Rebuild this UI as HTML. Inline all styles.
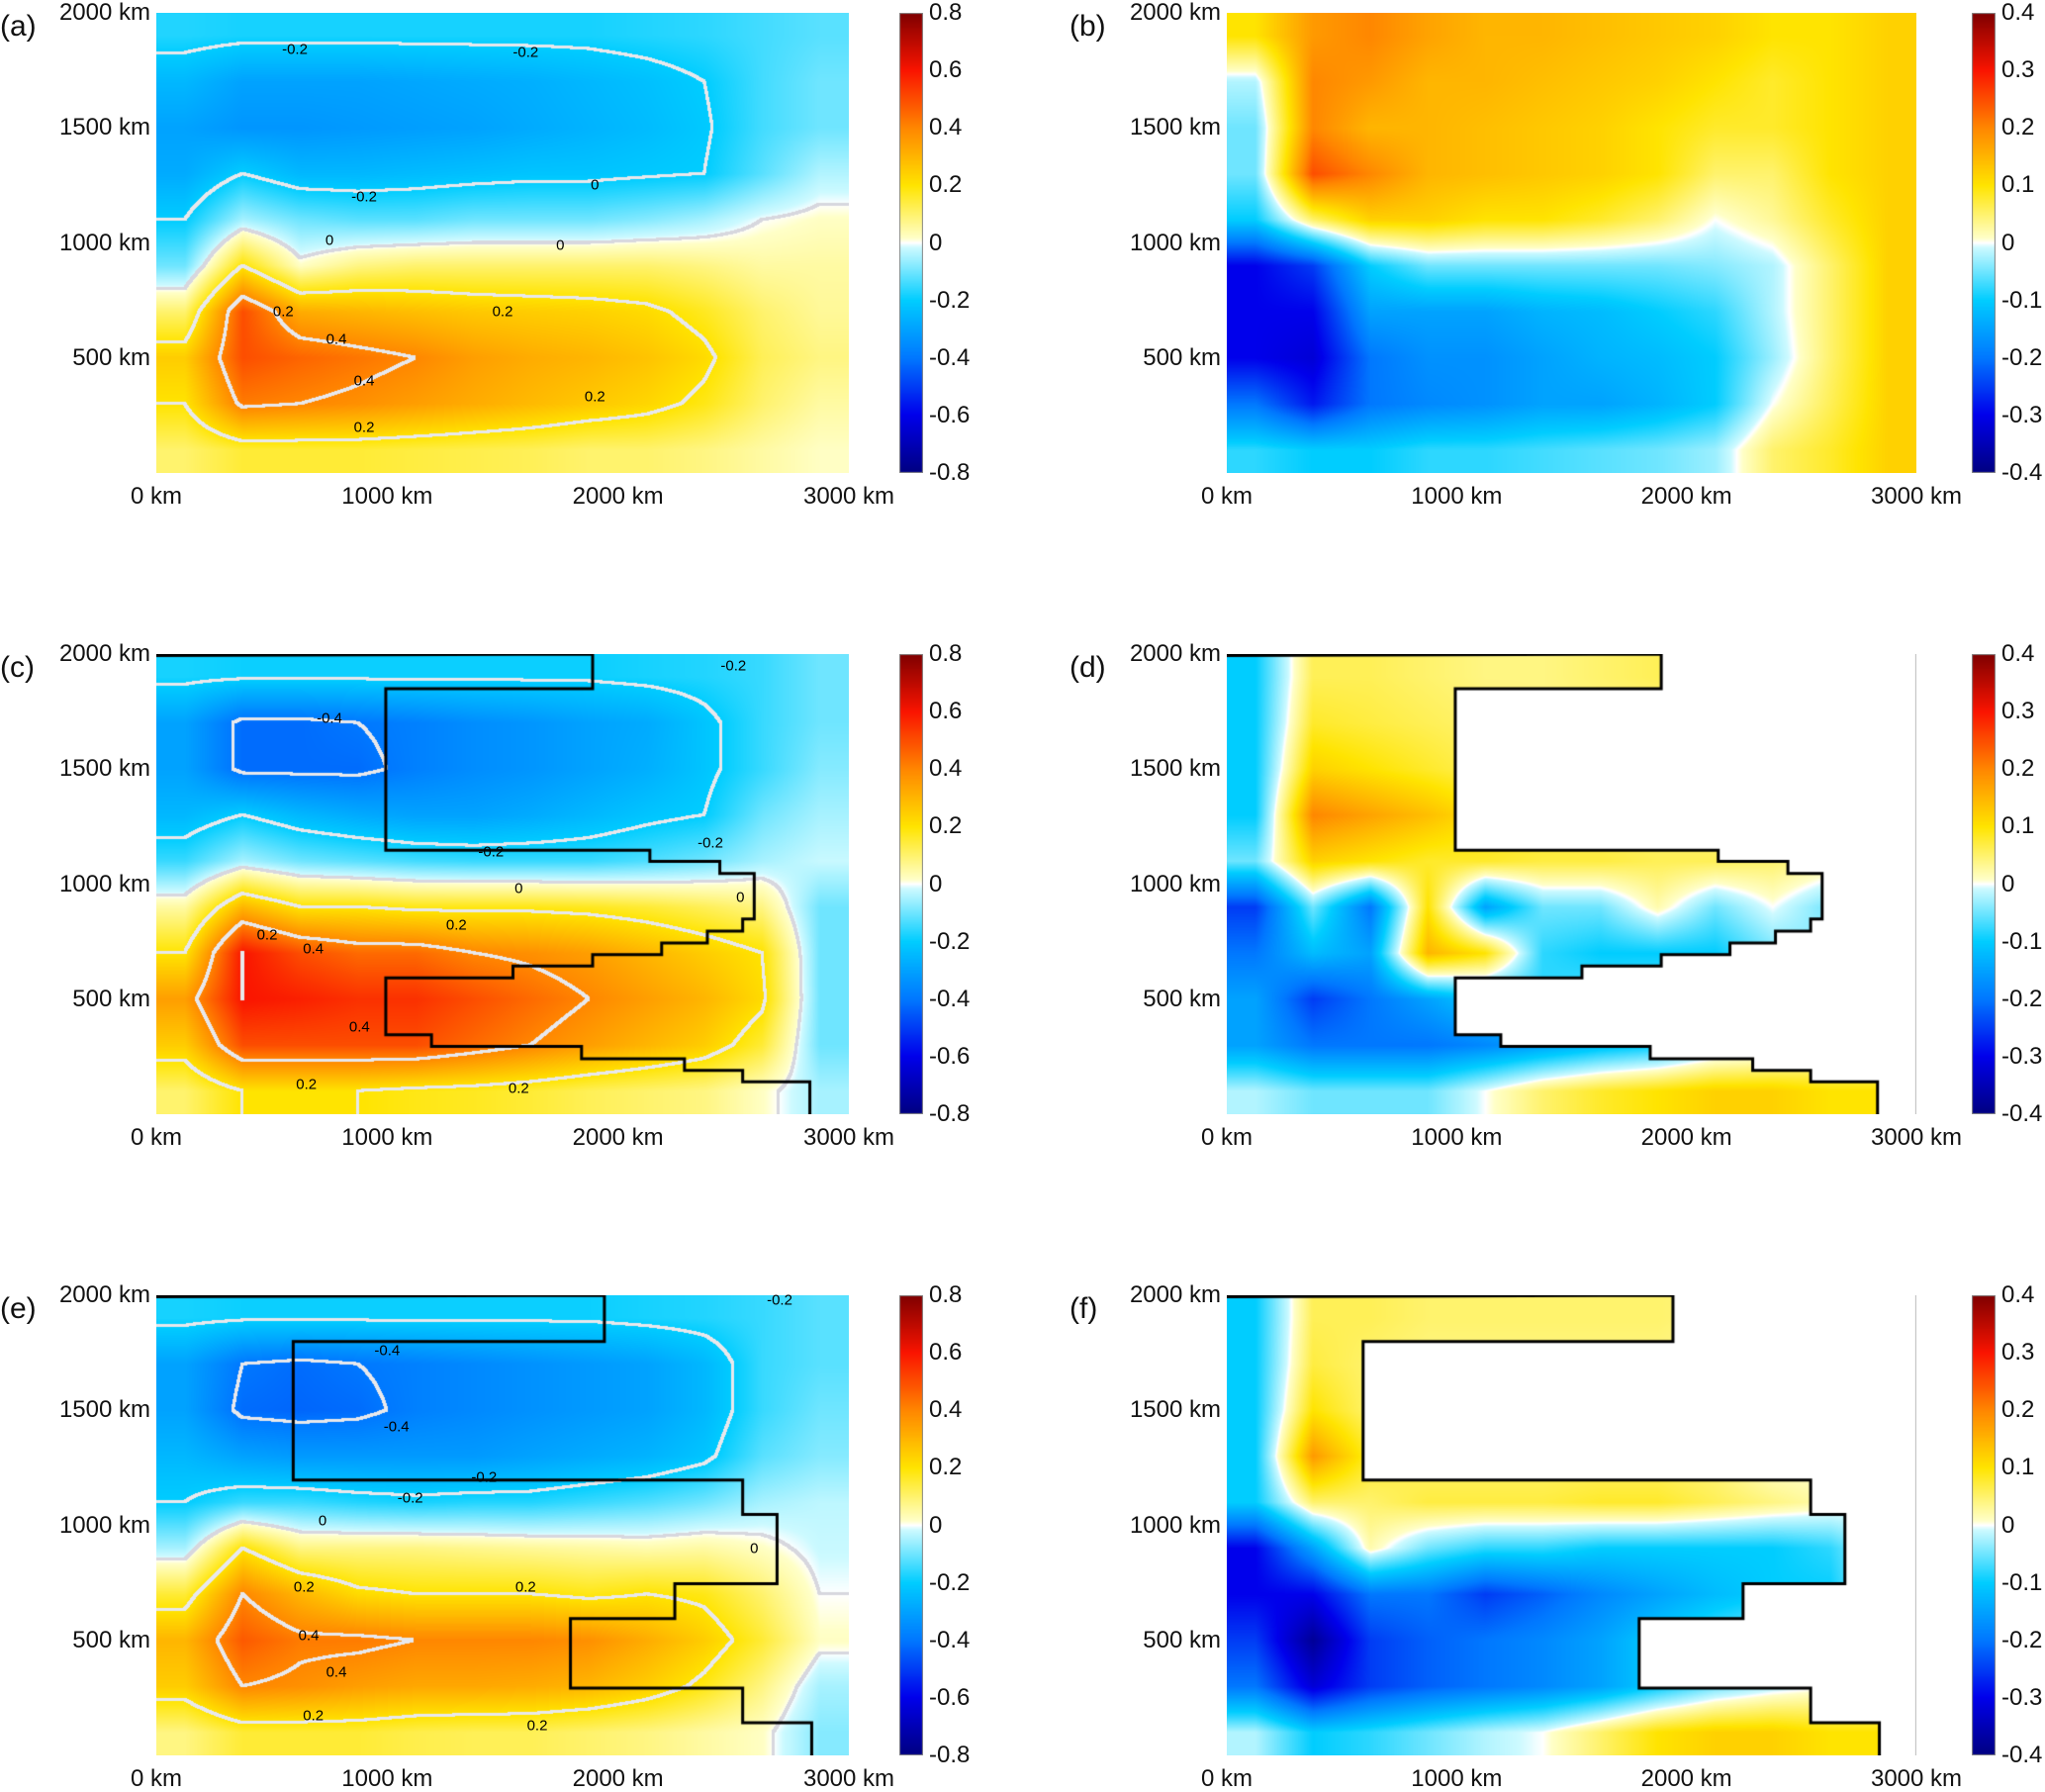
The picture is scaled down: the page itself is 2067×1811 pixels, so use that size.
<!DOCTYPE html>
<html><head><meta charset="utf-8">
<style>
html,body{margin:0;padding:0;background:#fff;}
body{width:2067px;height:1806px;position:relative;overflow:hidden;font-family:"Liberation Sans",Arial,sans-serif;color:#111;}
.tick{position:absolute;font-size:24px;white-space:nowrap;line-height:24px;}
.plbl{position:absolute;font-size:30px;line-height:30px;}
.clbl{position:absolute;font-size:15px;line-height:15px;white-space:nowrap;color:#000;transform:translate(-50%,-50%);}
canvas{position:absolute;}
</style></head>
<body>
<div id="root"></div>
<script>
// ---- data: 12 columns (x centres 125..2875 km) x 10 rows (y centres 1900..100 km, top to bottom)
const xTicks = [0, 1000, 2000, 3000];
const yTicks = [500, 1000, 1500, 2000];
const cbTicksWide = [-0.8, -0.6, -0.4, -0.2, 0, 0.2, 0.4, 0.6, 0.8];
const cbTicksNarrow = [-0.4, -0.3, -0.2, -0.1, 0, 0.1, 0.2, 0.3, 0.4];
const contourLevels = [-0.4, -0.2, 0, 0.2, 0.4, 0.6];

const dataA = [
[-0.17,-0.18,-0.18,-0.18,-0.18,-0.18,-0.18,-0.18,-0.17,-0.16,-0.14,-0.12],
[-0.25,-0.3,-0.3,-0.3,-0.29,-0.28,-0.27,-0.25,-0.23,-0.2,-0.14,-0.1],
[-0.3,-0.33,-0.33,-0.32,-0.31,-0.3,-0.28,-0.26,-0.24,-0.21,-0.14,-0.1],
[-0.28,-0.2,-0.25,-0.25,-0.24,-0.23,-0.22,-0.22,-0.21,-0.2,-0.12,-0.04],
[-0.2,-0.05,-0.1,-0.12,-0.12,-0.1,-0.1,-0.1,-0.08,-0.05,0.0,0.02],
[-0.1,0.2,0.02,0.08,0.1,0.1,0.1,0.1,0.1,0.08,0.05,0.05],
[0.1,0.5,0.32,0.3,0.28,0.26,0.25,0.24,0.22,0.17,0.1,0.06],
[0.25,0.5,0.46,0.43,0.4,0.35,0.32,0.3,0.27,0.22,0.12,0.08],
[0.2,0.42,0.4,0.38,0.35,0.32,0.29,0.26,0.23,0.18,0.1,0.05],
[0.1,0.15,0.15,0.15,0.14,0.13,0.12,0.1,0.1,0.08,0.05,0.02]];
const dataB = [
[0.1,0.18,0.2,0.17,0.15,0.15,0.14,0.13,0.12,0.1,0.1,0.12],
[-0.02,0.2,0.18,0.15,0.15,0.14,0.13,0.12,0.1,0.08,0.1,0.12],
[-0.05,0.2,0.15,0.15,0.14,0.13,0.12,0.1,0.08,0.08,0.1,0.12],
[-0.05,0.25,0.2,0.15,0.14,0.13,0.12,0.1,0.05,0.05,0.1,0.12],
[-0.1,0.05,0.12,0.12,0.1,0.1,0.08,0.05,0.0,0.03,0.08,0.12],
[-0.3,-0.25,-0.1,-0.05,-0.05,-0.05,-0.05,-0.05,-0.04,-0.02,0.05,0.12],
[-0.3,-0.3,-0.15,-0.15,-0.15,-0.13,-0.12,-0.1,-0.08,-0.02,0.05,0.12],
[-0.3,-0.32,-0.2,-0.17,-0.17,-0.15,-0.13,-0.12,-0.1,-0.03,0.05,0.12],
[-0.2,-0.28,-0.2,-0.18,-0.17,-0.15,-0.15,-0.13,-0.1,0.0,0.06,0.12],
[-0.08,-0.1,-0.1,-0.08,-0.08,-0.07,-0.06,-0.05,-0.03,0.05,0.08,0.12]];
const dataC = [
[-0.18,-0.19,-0.19,-0.19,-0.19,-0.19,-0.19,-0.19,-0.18,-0.17,-0.15,-0.1],
[-0.3,-0.42,-0.42,-0.4,-0.38,-0.35,-0.33,-0.3,-0.28,-0.22,-0.15,-0.1],
[-0.3,-0.42,-0.42,-0.42,-0.38,-0.35,-0.33,-0.3,-0.27,-0.22,-0.15,-0.08],
[-0.25,-0.2,-0.25,-0.28,-0.3,-0.3,-0.28,-0.25,-0.22,-0.2,-0.1,-0.05],
[-0.15,-0.05,-0.1,-0.12,-0.14,-0.15,-0.15,-0.15,-0.13,-0.1,-0.05,-0.02],
[0.05,0.3,0.2,0.2,0.18,0.18,0.18,0.17,0.15,0.12,0.08,-0.1],
[0.2,0.6,0.5,0.45,0.45,0.4,0.38,0.35,0.3,0.25,0.2,-0.1],
[0.35,0.6,0.58,0.55,0.55,0.5,0.45,0.4,0.35,0.3,0.22,-0.1],
[0.25,0.5,0.5,0.5,0.5,0.45,0.4,0.35,0.3,0.25,0.15,-0.1],
[0.1,0.2,0.2,0.2,0.18,0.17,0.15,0.12,0.1,0.08,0.02,-0.05]];
const dataD = [
[-0.1,0.06,0.06,0.05,0.04,0.04,0.05,0.06,0.05,0,0,0],
[-0.1,0.08,0.07,0.06,0.05,0.04,0.04,0.04,0.03,0,0,0],
[-0.1,0.12,0.1,0.08,0.06,0.05,0.04,0.04,0.03,0,0,0],
[-0.1,0.2,0.17,0.14,0.1,0.08,0.06,0.05,0.04,0,0,0],
[-0.05,0.12,0.1,0.08,0.08,0.07,0.07,0.06,0.06,0.05,0.03,0],
[-0.25,-0.05,-0.2,0.1,-0.15,-0.05,-0.05,0.02,-0.05,0.0,-0.05,0],
[-0.2,-0.12,-0.15,0.15,0.1,-0.08,-0.1,-0.1,-0.1,-0.05,-0.03,0],
[-0.15,-0.25,-0.2,-0.15,-0.1,-0.08,-0.06,-0.05,-0.04,-0.03,0,0],
[-0.15,-0.2,-0.2,-0.2,-0.18,-0.15,-0.12,-0.1,-0.05,-0.03,0,0],
[-0.02,-0.05,-0.05,-0.05,0.0,0.05,0.08,0.1,0.12,0.12,0.1,0.1]];
const dataE = [
[-0.18,-0.19,-0.19,-0.19,-0.19,-0.19,-0.19,-0.19,-0.18,-0.17,-0.15,-0.12],
[-0.3,-0.4,-0.42,-0.4,-0.38,-0.36,-0.34,-0.32,-0.3,-0.25,-0.15,-0.12],
[-0.3,-0.42,-0.43,-0.42,-0.38,-0.36,-0.34,-0.32,-0.3,-0.25,-0.15,-0.1],
[-0.25,-0.3,-0.32,-0.32,-0.32,-0.32,-0.3,-0.28,-0.26,-0.22,-0.12,-0.08],
[-0.2,-0.15,-0.15,-0.17,-0.18,-0.17,-0.17,-0.15,-0.13,-0.1,-0.05,-0.03],
[-0.05,0.2,0.08,0.08,0.08,0.07,0.06,0.05,0.04,0.05,0.02,-0.02],
[0.15,0.4,0.3,0.22,0.2,0.2,0.2,0.18,0.2,0.18,0.1,0.0],
[0.3,0.48,0.42,0.42,0.4,0.4,0.4,0.38,0.32,0.25,0.15,0.02],
[0.25,0.4,0.38,0.35,0.33,0.33,0.32,0.3,0.25,0.18,0.08,-0.05],
[0.08,0.15,0.15,0.15,0.13,0.12,0.12,0.1,0.08,0.05,0.02,-0.08]];
const dataF = [
[-0.1,0.06,0.06,0.05,0.05,0.05,0.05,0.05,0.04,0,0,0],
[-0.1,0.07,0.05,0.04,0.04,0.04,0.04,0.04,0.03,0,0,0],
[-0.1,0.1,0.05,0.04,0.04,0.04,0.04,0.04,0.03,0,0,0],
[-0.1,0.18,0.08,0.05,0.05,0.05,0.05,0.05,0.04,0,0,0],
[-0.1,0.05,0.05,0.07,0.07,0.07,0.08,0.08,0.06,0.04,0.02,0],
[-0.3,-0.15,0.02,-0.05,-0.08,-0.08,-0.1,-0.1,-0.1,-0.1,-0.08,0],
[-0.3,-0.3,-0.2,-0.2,-0.25,-0.22,-0.18,-0.15,-0.12,-0.1,-0.1,0],
[-0.25,-0.38,-0.25,-0.22,-0.2,-0.18,-0.15,-0.1,-0.06,-0.03,0,0],
[-0.2,-0.32,-0.25,-0.22,-0.2,-0.18,-0.15,-0.1,-0.05,-0.02,0,0],
[-0.02,-0.1,-0.08,-0.05,-0.02,0.0,0.05,0.1,0.12,0.12,0.1,0.1]];
// contour label annotations: [x km, y km, text]
const labelsA = [[600,1840,'-0.2'],[1600,1830,'-0.2'],[900,1200,'-0.2'],[1900,1250,'0'],[750,1010,'0'],[1750,990,'0'],[1500,700,'0.2'],[550,700,'0.2'],[780,580,'0.4'],[900,400,'0.4'],[1900,330,'0.2'],[900,200,'0.2']];
const labelsC = [[750,1720,'-0.4'],[2500,1950,'-0.2'],[1450,1140,'-0.2'],[2400,1180,'-0.2'],[1570,980,'0'],[2530,940,'0'],[1300,820,'0.2'],[480,780,'0.2'],[680,720,'0.4'],[880,380,'0.4'],[650,130,'0.2'],[1570,110,'0.2']];
const labelsE = [[1000,1760,'-0.4'],[1040,1430,'-0.4'],[2700,1980,'-0.2'],[1100,1120,'-0.2'],[1420,1210,'-0.2'],[720,1020,'0'],[2590,900,'0'],[1600,730,'0.2'],[640,730,'0.2'],[660,520,'0.4'],[780,360,'0.4'],[680,170,'0.2'],[1650,130,'0.2']];
// basin boundary polylines (km), from top-left corner to bottom edge
const boundaryC = [[0,2000],[1890,2000],[1890,1850],[994,1850],[994,1147],[2138,1147],[2138,1099],[2441,1099],[2441,1046],[2590,1046],[2590,848],[2540,848],[2540,796],[2387,796],[2387,744],[2189,744],[2189,694],[1890,694],[1890,644],[1545,644],[1545,593],[994,593],[994,345],[1192,345],[1192,295],[1842,295],[1842,241],[2288,241],[2288,190],[2540,190],[2540,141],[2831,141],[2831,0]];
const boundaryE = [[0,2000],[1941,2000],[1941,1799],[593,1799],[593,1197],[2540,1197],[2540,1047],[2689,1047],[2689,746],[2246,746],[2246,595],[1794,595],[1794,293],[2540,293],[2540,142],[2839,142],[2839,0]];

// ---- layout
const panels = [
 {id:'a', x:158, y:13, w:700, h:465, data:dataA, vmax:0.8, cb:cbTicksWide, contours:true, labels:labelsA, line:null, mask:null, cbx:909, lx:0},
 {id:'b', x:1240, y:13, w:697, h:465, data:dataB, vmax:0.4, cb:cbTicksNarrow, contours:false, labels:[], line:null, mask:null, cbx:1993, lx:1081},
 {id:'c', x:158, y:661, w:700, h:465, data:dataC, vmax:0.8, cb:cbTicksWide, contours:true, labels:labelsC, line:boundaryC, mask:null, cbx:909, lx:0},
 {id:'d', x:1240, y:661, w:697, h:465, data:dataD, vmax:0.4, cb:cbTicksNarrow, contours:false, labels:[], line:boundaryC, mask:boundaryC, cbx:1993, lx:1081},
 {id:'e', x:158, y:1309, w:700, h:465, data:dataE, vmax:0.8, cb:cbTicksWide, contours:true, labels:labelsE, line:boundaryE, mask:null, cbx:909, lx:0},
 {id:'f', x:1240, y:1309, w:697, h:465, data:dataF, vmax:0.4, cb:cbTicksNarrow, contours:false, labels:[], line:boundaryE, mask:boundaryE, cbx:1993, lx:1081}
];
const stops = [[-1,[0,0,130]],[-0.75,[0,0,235]],[-0.5,[0,120,255]],[-0.25,[0,205,255]],[-0.02,[205,250,255]],[0,[255,255,255]],[0.02,[255,255,200]],[0.25,[255,228,0]],[0.5,[255,135,0]],[0.75,[250,20,0]],[1,[128,0,0]]];
function cmap(t){
  t=Math.max(-1,Math.min(1,t));
  for(let i=1;i<stops.length;i++){
    if(t<=stops[i][0]){const a=stops[i-1],b=stops[i];const f=(t-a[0])/(b[0]-a[0]);
      return [0,1,2].map(k=>Math.round(a[1][k]+(b[1][k]-a[1][k])*f));}
  }
  return stops[stops.length-1][1];
}
function sample(data,xk,yk){
  const nc=data[0].length,nr=data.length;
  let cx=xk/(3000/nc)-0.5, ry=(2000-yk)/(2000/nr)-0.5;
  cx=Math.max(0,Math.min(nc-1,cx)); ry=Math.max(0,Math.min(nr-1,ry));
  const c0=Math.min(nc-2,Math.floor(cx)), r0=Math.min(nr-2,Math.floor(ry));
  const fx=cx-c0, fy=ry-r0;
  const v00=data[r0][c0],v01=data[r0][c0+1],v10=data[r0+1][c0],v11=data[r0+1][c0+1];
  return (v00*(1-fx)+v01*fx)*(1-fy)+(v10*(1-fx)+v11*fx)*fy;
}
const root=document.getElementById('root');
function add(tag,cls,name,css,text){
  const el=document.createElement(tag); if(cls) el.className=cls;
  
  
  Object.assign(el.style,css); if(text!==undefined) el.textContent=text; root.appendChild(el); return el;
}
panels.forEach(p=>{
  const sx=km=>km/3000*p.w, sy=km=>(1-km/2000)*p.h;
  const cv=document.createElement('canvas');
  
  
  cv.width=p.w; cv.height=p.h; cv.style.left=p.x+'px'; cv.style.top=p.y+'px';
  root.appendChild(cv);
  const ctx=cv.getContext('2d');
  const img=ctx.createImageData(p.w,p.h);
  const F=new Float32Array(p.w*p.h);
  for(let j=0;j<p.h;j++)for(let i=0;i<p.w;i++){
    F[j*p.w+i]=sample(p.data,(i+0.5)/p.w*3000,2000-(j+0.5)/p.h*2000);
  }
  for(let j=0;j<p.h;j++)for(let i=0;i<p.w;i++){
    const v=F[j*p.w+i]; let c=cmap(v/p.vmax);
    if(p.contours){
      for(const L of contourLevels){
        const s=Math.sign(v-L); let hit=false;
        for(let dj=-1;dj<=2&&!hit;dj++)for(let di=-1;di<=2;di++){
          const ii=i+di,jj=j+dj; if(ii<0||jj<0||ii>=p.w||jj>=p.h)continue;
          if(Math.sign(F[jj*p.w+ii]-L)!==s){hit=true;break;}
        }
        if(hit){c=L===0?[215,215,222]:[232,232,236];break;}
      }
    }
    const k=(j*p.w+i)*4; img.data[k]=c[0];img.data[k+1]=c[1];img.data[k+2]=c[2];img.data[k+3]=255;
  }
  ctx.putImageData(img,0,0);
  if(p.mask){
    ctx.save(); ctx.beginPath(); ctx.rect(0,0,p.w,p.h);
    ctx.moveTo(sx(p.mask[0][0]),sy(p.mask[0][1]));
    p.mask.forEach(q=>ctx.lineTo(sx(q[0]),sy(q[1])));
    ctx.lineTo(sx(p.mask[0][0]),sy(0)); ctx.closePath();
    ctx.fillStyle='#fff'; ctx.fill('evenodd'); ctx.restore();
    ctx.fillStyle='#bbb'; ctx.fillRect(p.w-1,0,1,p.h);
  }
  if(p.line){
    ctx.beginPath(); ctx.moveTo(sx(p.line[0][0]),sy(p.line[0][1])+1.5);
    p.line.forEach((q,n)=>ctx.lineTo(sx(q[0]),n===0?sy(q[1])+1.5:sy(q[1])));
    ctx.strokeStyle='#000'; ctx.lineWidth=3; ctx.stroke();
  }
  p.labels.forEach(l=>{
    add('div','clbl','contour-label',{left:(p.x+sx(l[0]))+'px',top:(p.y+sy(l[1]))+'px'},l[2]);
  });
  xTicks.forEach(t=>{
    add('div','tick','x-tick-label',{left:(p.x+sx(t)-60)+'px',top:(p.y+p.h+12)+'px',width:'120px',textAlign:'center'},t+' km');
  });
  yTicks.forEach(t=>{
    add('div','tick','y-tick-label',{left:(p.x-162)+'px',top:(p.y+sy(t)-12)+'px',width:'156px',textAlign:'right'},t+' km');
  });
  add('div','plbl','panel-label',{left:p.lx+'px',top:(p.y-1)+'px'},'('+p.id+')');
  const cb=document.createElement('canvas');
  
  
  cb.width=24; cb.height=p.h; cb.style.left=p.cbx+'px'; cb.style.top=p.y+'px';
  root.appendChild(cb);
  const cc=cb.getContext('2d');
  for(let j=0;j<p.h;j++){const c=cmap(1-2*j/(p.h-1)); cc.fillStyle='rgb('+c.join(',')+')'; cc.fillRect(0,j,24,1);}
  cc.strokeStyle='#888'; cc.lineWidth=1; cc.strokeRect(0.5,0.5,23,p.h-1);
  p.cb.forEach(t=>{
    const yy=p.y+(1-(t+p.vmax)/(2*p.vmax))*p.h;
    add('div','tick','colorbar-tick-label',{left:(p.cbx+30)+'px',top:(yy-12)+'px'},String(t));
  });
});
</script>
</body></html>
